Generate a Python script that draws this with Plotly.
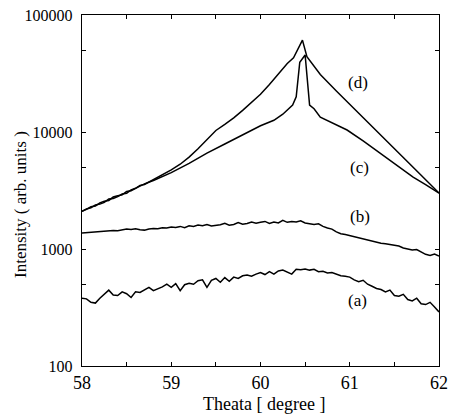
import math
import plotly.graph_objects as go

# ---- data ----
x_ab = [58.00, 58.05, 58.10, 58.15, 58.20, 58.25, 58.30, 58.35, 58.40, 58.45,
        58.50, 58.55, 58.60, 58.65, 58.70, 58.75, 58.80, 58.85, 58.90, 58.95,
        59.00, 59.05, 59.10, 59.15, 59.20, 59.25, 59.30, 59.35, 59.40, 59.45,
        59.50, 59.55, 59.60, 59.65, 59.70, 59.75, 59.80, 59.85, 59.90, 59.95,
        60.00, 60.05, 60.10, 60.15, 60.20, 60.25, 60.30, 60.35, 60.40, 60.45,
        60.50, 60.55, 60.60, 60.65, 60.70, 60.75, 60.80, 60.85, 60.90, 60.95,
        61.00, 61.05, 61.10, 61.15, 61.20, 61.25, 61.30, 61.35, 61.40, 61.45,
        61.50, 61.55, 61.60, 61.65, 61.70, 61.75, 61.80, 61.85, 61.90, 61.95,
        62.00]

curve_a = [380, 375, 350, 345, 380, 410, 445, 405, 400, 430,
           415, 385, 430, 425, 450, 470, 440, 455, 475, 500,
           470, 505, 440, 495, 510, 500, 535, 545, 470, 540,
           560, 520, 570, 530, 575, 560, 590, 600, 585, 610,
           630, 605, 640, 610, 650, 660, 635, 610, 670, 665,
           675, 660, 670, 640, 645, 625, 630, 610, 590, 585,
           575, 545, 525, 540, 500, 480, 460, 450, 430, 445,
           400, 395, 410, 370, 360, 380, 340, 335, 350, 320,
           290]

curve_b = [1370, 1380, 1390, 1400, 1410, 1420, 1450, 1440, 1430, 1460,
           1480, 1470, 1490, 1460, 1450, 1480, 1500, 1490, 1520, 1510,
           1540, 1530, 1560, 1520, 1580, 1560, 1600, 1580, 1620, 1570,
           1590, 1610, 1660, 1600, 1620, 1680, 1630, 1650, 1700, 1660,
           1690, 1720, 1650, 1700, 1670, 1760, 1690, 1720, 1700, 1740,
           1670, 1640, 1620, 1640, 1560, 1510, 1480, 1400, 1350, 1330,
           1300, 1270, 1240, 1230, 1200, 1170, 1140, 1120, 1110, 1090,
           1080, 1060, 1020, 1000, 980, 990, 950, 900, 880, 905,
           870]

x_c = [58.00, 58.05, 58.10, 58.15, 58.20, 58.25, 58.30, 58.35, 58.40, 58.45,
       58.50, 58.55, 58.60, 58.65, 58.70, 58.80, 58.90, 59.00, 59.20, 59.40,
       59.60, 59.80, 60.00, 60.15, 60.25, 60.36, 60.40, 60.44, 60.50, 60.55,
       60.60, 60.67, 60.80, 60.97, 61.15, 61.34, 61.50, 61.71, 61.85, 62.00]
curve_c = [2100, 2200, 2250, 2380, 2420, 2500, 2680, 2700, 2800, 2950,
           3000, 3200, 3300, 3450, 3600, 3850, 4150, 4500, 5400, 6600,
           7900, 9500, 11300, 12600, 14200, 17000, 20000, 39500, 45500, 17000,
           15800, 13400, 12000, 10400, 8400, 6600, 5300, 4120, 3550, 3000]

x_d = [58.00, 58.05, 58.10, 58.15, 58.20, 58.25, 58.30, 58.35, 58.40, 58.45,
       58.50, 58.55, 58.60, 58.65, 58.70, 58.80, 58.90, 59.00, 59.10, 59.20,
       59.30, 59.40, 59.50, 59.60, 59.70, 59.80, 59.90, 60.00, 60.10, 60.20,
       60.30, 60.37, 60.42, 60.47, 60.52, 60.67, 60.85, 61.00, 61.20, 61.40,
       61.60, 61.80, 62.00]
curve_d = [2100, 2180, 2300, 2330, 2480, 2560, 2600, 2780, 2850, 2900,
           3100, 3150, 3300, 3500, 3560, 3900, 4300, 4750, 5300, 6100,
           7200, 8700, 10300, 11600, 13200, 15300, 18000, 21000, 25500, 31000,
           38500, 43000, 52000, 61000, 44000, 31000, 22400, 17300, 12200, 8600,
           6050, 4270, 3010]

labels = ["(d)", "(c)", "(b)", "(a)"]
label_x = [61.09, 61.11, 61.11, 61.09]
label_y = [26700, 5020, 1880, 366]

y_tickvals = [100, 500, 1000, 5000, 10000, 50000, 100000]
y_ticktext = ["100", "", "1000", "", "10000", "", "100000"]
x_tickvals = [58, 58.5, 59, 59.5, 60, 60.5, 61, 61.5, 62]
x_ticktext = ["58", "", "59", "", "60", "", "61", "", "62"]

SERIF = "Liberation Serif, Times New Roman, serif"
line_style = dict(color="black", width=1.5)

W, H = 450, 416
L, R, T, B = 82, 11, 15, 50
PW, PH = W - L - R, H - T - B

fig = go.Figure()
fig.add_trace(go.Scatter(x=x_ab, y=curve_a, mode="lines", line=line_style))
fig.add_trace(go.Scatter(x=x_ab, y=curve_b, mode="lines", line=line_style))
fig.add_trace(go.Scatter(x=x_c, y=curve_c, mode="lines", line=line_style))
fig.add_trace(go.Scatter(x=x_d, y=curve_d, mode="lines", line=line_style))

for t, lx, ly in zip(labels, label_x, label_y):
    fig.add_annotation(x=lx, y=math.log10(ly), yref="y", xref="x", text=t,
                       showarrow=False, xanchor="center", yanchor="middle",
                       font=dict(family=SERIF, size=17, color="black"))

fig.add_annotation(x=(21 - L) / PW, y=(366 - 205) / PH, xref="paper", yref="paper",
                   text="Intensity ( arb. units )", textangle=-90, showarrow=False,
                   xanchor="center", yanchor="middle",
                   font=dict(family=SERIF, size=17, color="black"))
fig.add_annotation(x=(264 - L) / PW, y=-(404 - 366) / PH, xref="paper", yref="paper",
                   text="Theata [ degree ]", showarrow=False,
                   xanchor="center", yanchor="middle",
                   font=dict(family=SERIF, size=18, color="black"))

fig.update_layout(
    width=W, height=H,
    margin=dict(l=L, r=R, t=T, b=B, autoexpand=False),
    paper_bgcolor="white", plot_bgcolor="white",
    showlegend=False, hovermode=False,
    font=dict(family=SERIF, color="black"),
)
fig.update_xaxes(
    range=[58, 62], tickmode="array", tickvals=x_tickvals, ticktext=x_ticktext,
    ticks="inside", ticklen=4, tickcolor="black", showline=True,
    linecolor="black", linewidth=1.3, mirror="ticks", showgrid=False,
    zeroline=False, ticklabelposition="outside", automargin=False,
    ticklabeloverflow="allow",
    tickfont=dict(family=SERIF, size=18, color="black"),
)
fig.update_yaxes(
    type="log", range=[2, 5], tickmode="array", tickvals=y_tickvals,
    ticktext=y_ticktext, ticks="inside", ticklen=4, tickcolor="black",
    showline=True, linecolor="black", linewidth=1.3, mirror="ticks",
    showgrid=False, zeroline=False, ticklabelposition="outside", automargin=False,
    ticklabeloverflow="allow", ticklabelstandoff=5,
    tickfont=dict(family=SERIF, size=16, color="black"),
)

fig.write_html(
    "out.html",
    config={"displayModeBar": False, "staticPlot": True},
    post_script="document.body.style.margin='0';document.body.style.overflow='hidden';",
)
